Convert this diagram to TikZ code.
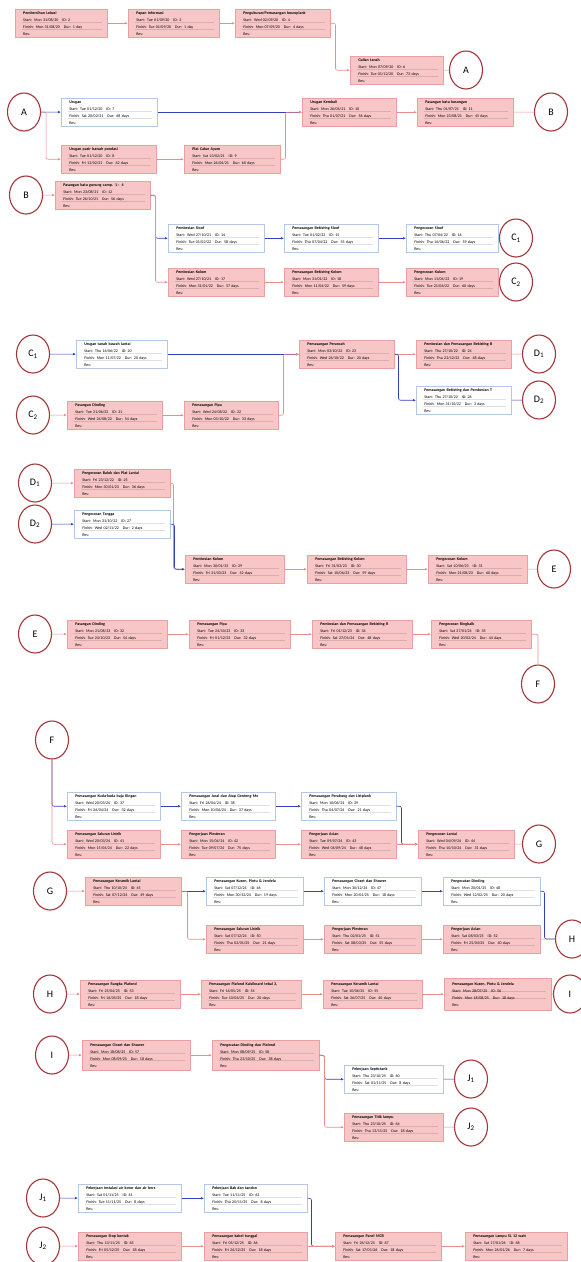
\documentclass[tikz,border=0pt]{standalone}
\usepackage{fontspec}
\setmainfont{Carlito}
\usetikzlibrary{positioning,shapes.geometric,arrows.meta}

\definecolor{critfill}{HTML}{F8C6C6}
\definecolor{critdraw}{HTML}{EBA0A0}
\definecolor{critclr}{HTML}{E88E8E}
\definecolor{nondraw}{HTML}{B4C8E4}
\definecolor{nonclr}{HTML}{3340B8}
\definecolor{ringclr}{HTML}{A4363A}

\tikzset{
  taskbox/.style={draw, line width=0.5pt, anchor=north west, minimum height=28pt,
    inner xsep=8pt, inner ysep=1.5pt, align=left, font=\fontsize{4}{7}\selectfont},
  crit/.style={taskbox, fill=critfill, draw=critdraw},
  noncrit/.style={taskbox, fill=white, draw=nondraw},
  link/.style={shape=ellipse, draw=ringclr, line width=1.1pt, fill=white,
    minimum width=33pt, minimum height=38pt, inner sep=0pt, font=\fontsize{10}{12}\selectfont},
  critarrow/.style={draw=critclr, line width=0.6pt, rounded corners=2pt, -{Latex[length=3pt,width=2.6pt]}},
  nonarrow/.style={draw=nonclr, line width=0.6pt, rounded corners=2pt, -{Latex[length=3pt,width=2.6pt]}},
  critjoin/.style={draw=critclr, line width=0.6pt, rounded corners=2pt},
  nonjoin/.style={draw=nonclr, line width=0.6pt, rounded corners=2pt},
  sepline/.style={draw=black, opacity=0.12, line width=0.3pt}
}

% style, name, x, y, width, title, start, finish
\newcommand{\pdmtask}[8]{%
  \pgfmathsetmacro{\tw}{#5-16}%
  \node[#1, text width=\tw pt] (#2) at (#3,#4) {\textbf{#6}\\Start: #7\\Finish: #8\\Res:};
  \draw[sepline] ([xshift=7,yshift=-13.5]#2.north west) -- ([xshift=-6,yshift=-13.5]#2.north east);
  \draw[sepline] ([xshift=7,yshift=-20.5]#2.north west) -- ([xshift=-6,yshift=-20.5]#2.north east);
}

\begin{document}
\begin{tikzpicture}[x=1pt,y=-1pt]
\useasboundingbox (0,0) rectangle (581,1262);
% Row 1
\pdmtask{crit}{t2}{15}{9}{92}{Pembersihan Lokasi}{Mon 31/08/20\quad ID: 2}{Mon 31/08/20\quad Dur: 1 day}
\pdmtask{crit}{t3}{128}{9}{91}{Papan Informasi}{Tue 01/09/20\quad ID: 3}{Tue 01/09/20\quad Dur: 1 day}
\pdmtask{crit}{t4}{235}{9}{95}{Pengukuran/Pemasangan bouwplank}{Wed 02/09/20\quad ID: 4}{Mon 07/09/20\quad Dur: 4 days}
\pdmtask{crit}{t6}{350}{56}{93}{Galian tanah}{Mon 07/09/20\quad ID: 6}{Tue 01/12/20\quad Dur: 73 days}
\node[link] (A1) at (466,70) {A};
\draw[critarrow] (t2) -- (t3);
\draw[critarrow] (t3) -- (t4);
\draw[critarrow] (t4.east) -- ++(5,0) |- (t6.west);
\draw[critjoin] (t6) -- (A1);
% Row 2
\node[link] (A2) at (24,112) {A};
\pdmtask{noncrit}{t7}{61}{98}{96}{Urugan}{Tue 01/12/20\quad ID: 7}{Sat 20/02/21\quad Dur: 68 days}
\pdmtask{crit}{t8}{61}{145}{95}{Urugan pasir bawah pondasi}{Tue 01/12/20\quad ID: 8}{Fri 12/02/21\quad Dur: 62 days}
\pdmtask{crit}{t9}{184}{145}{96}{Plat Cakar Ayam}{Sat 13/02/21\quad ID: 9}{Mon 26/04/21\quad Dur: 60 days}
\pdmtask{crit}{t10}{302}{98}{94}{Urugan Kembali}{Mon 26/04/21\quad ID: 10}{Thu 01/07/21\quad Dur: 56 days}
\pdmtask{crit}{t11}{417}{98}{96}{Pasangan batu kosongan}{Thu 01/07/21\quad ID: 11}{Mon 23/08/21\quad Dur: 45 days}
\node[link] (B1) at (551,112) {B};
\draw[nonarrow] (A2) -- (t7);
\draw[critarrow] (A2.east) -- ++(5,0) |- (t8.west);
\draw[critarrow] (t8) -- (t9);
\draw[nonarrow] (t7) -- (t10);
\draw[critarrow] (t9.east) -- ++(5,0) |- (t10.west);
\draw[critarrow] (t10) -- (t11);
\draw[critjoin] (t11) -- (B1);
% Row 3
\node[link] (B2) at (26,195) {B};
\pdmtask{crit}{t12}{55}{181}{95}{Pasangan batu gunung camp. 1 : 4}{Mon 23/08/21\quad ID: 12}{Tue 26/10/21\quad Dur: 56 days}
\pdmtask{noncrit}{t14}{168}{224}{96}{Pembesian Sloof}{Wed 27/10/21\quad ID: 14}{Tue 01/02/22\quad Dur: 58 days}
\pdmtask{noncrit}{t15}{284}{224}{94}{Pemasangan Bekisting Sloof}{Tue 01/02/22\quad ID: 15}{Thu 07/04/22\quad Dur: 55 days}
\pdmtask{noncrit}{t16}{406}{224}{92}{Pengecoran Sloof}{Thu 07/04/22\quad ID: 16}{Thu 16/06/22\quad Dur: 59 days}
\node[link] (C1a) at (516,238) {C\textsubscript{1}};
\pdmtask{crit}{t17}{168}{268}{96}{Pembesian Kolom}{Wed 27/10/21\quad ID: 17}{Mon 31/01/22\quad Dur: 57 days}
\pdmtask{crit}{t18}{284}{268}{94}{Pemasangan Bekisting Kolom}{Mon 31/01/22\quad ID: 18}{Mon 11/04/22\quad Dur: 59 days}
\pdmtask{crit}{t19}{406}{268}{92}{Pengecoran Kolom}{Mon 11/04/22\quad ID: 19}{Tue 21/06/22\quad Dur: 60 days}
\node[link] (C2a) at (516,282) {C\textsubscript{2}};
\draw[critarrow] (B2) -- (t12);
\draw[nonarrow] (t12.east) -- ++(5,0) |- (t14.west);
\draw[critarrow] (t12.east) -- ++(5,0) |- (t17.west);
\draw[nonarrow] (t14) -- (t15);
\draw[nonarrow] (t15) -- (t16);
\draw[nonjoin] (t16) -- (C1a);
\draw[critarrow] (t17) -- (t18);
\draw[critarrow] (t18) -- (t19);
\draw[critjoin] (t19) -- (C2a);
% Row 4
\node[link] (C1b) at (33,354) {C\textsubscript{1}};
\pdmtask{noncrit}{t20}{76}{340}{91}{Urugan tanah bawah lantai}{Thu 16/06/22\quad ID: 20}{Mon 11/07/22\quad Dur: 20 days}
\pdmtask{crit}{t23}{299}{340}{95}{Pemasangan Perancah}{Mon 03/10/22\quad ID: 23}{Wed 26/10/22\quad Dur: 20 days}
\pdmtask{crit}{t24}{416}{340}{95}{Pembesian dan Pemasangan Bekisting B}{Thu 27/10/22\quad ID: 24}{Thu 22/12/22\quad Dur: 48 days}
\node[link] (D1a) at (539,354) {D\textsubscript{1}};
\pdmtask{noncrit}{t26}{416}{386}{95}{Pemasangan Bekisting dan Pembesian T}{Thu 27/10/22\quad ID: 26}{Mon 31/10/22\quad Dur: 3 days}
\node[link] (D2a) at (539,400) {D\textsubscript{2}};
\node[link] (C2b) at (33,415) {C\textsubscript{2}};
\pdmtask{crit}{t21}{67}{401}{95}{Pasangan Dinding}{Tue 21/06/22\quad ID: 21}{Wed 24/08/22\quad Dur: 54 days}
\pdmtask{crit}{t22}{184}{401}{94}{Pemasangan Pipa}{Wed 24/08/22\quad ID: 22}{Mon 03/10/22\quad Dur: 33 days}
\draw[nonarrow] (C1b) -- (t20);
\draw[critarrow] (C2b) -- (t21);
\draw[critarrow] (t21) -- (t22);
\draw[nonarrow] (t20) -- (t23);
\draw[critarrow] (t22.east) -- ++(5,0) |- (t23.west);
\draw[critarrow] (t23) -- (t24);
\draw[nonarrow] (t23.east) -- ++(4,0) |- (t26.west);
\draw[critjoin] (t24) -- (D1a);
\draw[nonjoin] (t26) -- (D2a);
% Row 5
\node[link] (D1b) at (35,483) {D\textsubscript{1}};
\pdmtask{crit}{t25}{74}{469}{96}{Pengecoran Balok dan Plat Lantai}{Fri 23/12/22\quad ID: 25}{Mon 30/01/23\quad Dur: 36 days}
\node[link] (D2b) at (35,524) {D\textsubscript{2}};
\pdmtask{noncrit}{t27}{74}{510}{96}{Pengecoran Tangga}{Mon 31/10/22\quad ID: 27}{Wed 02/11/22\quad Dur: 2 days}
\pdmtask{crit}{t29}{185}{555}{99}{Pembesian Kolom}{Mon 30/01/23\quad ID: 29}{Fri 31/03/23\quad Dur: 52 days}
\pdmtask{crit}{t30}{307}{555}{99}{Pemasangan Bekisting Kolom}{Fri 31/03/23\quad ID: 30}{Sat 10/06/23\quad Dur: 59 days}
\pdmtask{crit}{t31}{428}{555}{99}{Pengecoran Kolom}{Sat 10/06/23\quad ID: 31}{Mon 21/08/23\quad Dur: 60 days}
\node[link] (E1) at (554,569) {E};
\draw[critarrow] (D1b) -- (t25);
\draw[nonarrow] (D2b) -- (t27);
\draw[critarrow] (t25.east) -- ++(3,0) |- (t29.west);
\draw[nonarrow] (t27.east) -- ++(4,0) |- (t29.west);
\draw[critarrow] (t29) -- (t30);
\draw[critarrow] (t30) -- (t31);
\draw[critjoin] (t31) -- (E1);
% Row 6
\node[link] (E2) at (35,634) {E};
\pdmtask{crit}{t32}{67}{620}{100}{Pasangan Dinding}{Mon 21/08/23\quad ID: 32}{Tue 24/10/23\quad Dur: 54 days}
\pdmtask{crit}{t33}{189}{620}{101}{Pemasangan Pipa}{Tue 24/10/23\quad ID: 33}{Fri 01/12/23\quad Dur: 32 days}
\pdmtask{crit}{t34}{312}{620}{100}{Pembesian dan Pemasangan Bekisting R}{Fri 01/12/23\quad ID: 34}{Sat 27/01/24\quad Dur: 48 days}
\pdmtask{crit}{t35}{431}{620}{100}{Pengecoran Ringbalk}{Sat 27/01/24\quad ID: 35}{Wed 20/03/24\quad Dur: 44 days}
\node[link] (F1) at (538,684) {F};
\draw[critarrow] (E2) -- (t32);
\draw[critarrow] (t32) -- (t33);
\draw[critarrow] (t33) -- (t34);
\draw[critarrow] (t34) -- (t35);
\draw[critjoin] (t35.east) -| (F1.north);
% Row 7
\node[link] (F2) at (52,740) {F};
\pdmtask{noncrit}{t37}{67}{792}{93}{Pemasangan Kuda-kuda baja Ringan}{Wed 20/03/24\quad ID: 37}{Fri 26/04/24\quad Dur: 32 days}
\pdmtask{noncrit}{t38}{181}{792}{94}{Pemasangan Jurai dan Atap Genteng Me}{Fri 26/04/24\quad ID: 38}{Mon 10/06/24\quad Dur: 37 days}
\pdmtask{noncrit}{t39}{301}{792}{95}{Pemasangan Perabung dan Listplank}{Mon 10/06/24\quad ID: 39}{Thu 04/07/24\quad Dur: 21 days}
\pdmtask{crit}{t41}{67}{830}{93}{Pemasangan Saluran Listrik}{Wed 20/03/24\quad ID: 41}{Mon 15/04/24\quad Dur: 22 days}
\pdmtask{crit}{t42}{181}{830}{94}{Pengerjaan Plesteran}{Mon 15/04/24\quad ID: 42}{Tue 09/07/24\quad Dur: 75 days}
\pdmtask{crit}{t43}{301}{830}{95}{Pengerjaan Acian}{Tue 09/07/24\quad ID: 43}{Wed 04/09/24\quad Dur: 48 days}
\pdmtask{crit}{t44}{418}{830}{96}{Pengecoran Lantai}{Wed 04/09/24\quad ID: 44}{Thu 10/10/24\quad Dur: 31 days}
\node[link] (G1) at (539,844) {G};
\draw[nonarrow] (F2.south) |- (t37.west);
\draw[critarrow] (F2.south) |- (t41.west);
\draw[nonarrow] (t37) -- (t38);
\draw[nonarrow] (t38) -- (t39);
\draw[critarrow] (t41) -- (t42);
\draw[critarrow] (t42) -- (t43);
\draw[nonarrow] (t39.east) -- ++(5,0) |- (t44.west);
\draw[critarrow] (t43) -- (t44);
\draw[critjoin] (t44) -- (G1);
% Row 8
\node[link] (G2) at (50,891) {G};
\pdmtask{crit}{t45}{85}{877}{96}{Pemasangan Keramik Lantai}{Thu 10/10/24\quad ID: 45}{Sat 07/12/24\quad Dur: 49 days}
\pdmtask{noncrit}{t46}{206}{877}{97}{Pemasangan Kusen, Pintu \& Jendela}{Sat 07/12/24\quad ID: 46}{Mon 30/12/24\quad Dur: 19 days}
\pdmtask{noncrit}{t47}{324}{877}{97}{Pemasangan Closet dan Shower}{Mon 30/12/24\quad ID: 47}{Mon 20/01/25\quad Dur: 18 days}
\pdmtask{noncrit}{t48}{443}{877}{97}{Pengecatan Dinding}{Mon 20/01/25\quad ID: 48}{Wed 12/02/25\quad Dur: 20 days}
\pdmtask{crit}{t50}{206}{925}{97}{Pemasangan Saluran Listrik}{Sat 07/12/24\quad ID: 50}{Thu 02/01/25\quad Dur: 21 days}
\pdmtask{crit}{t51}{324}{925}{97}{Pengerjaan Plesteran}{Thu 02/01/25\quad ID: 51}{Sat 08/03/25\quad Dur: 55 days}
\pdmtask{crit}{t52}{443}{925}{97}{Pengerjaan Acian}{Sat 08/03/25\quad ID: 52}{Fri 25/04/25\quad Dur: 40 days}
\node[link] (H1) at (572,939) {H};
\draw[critarrow] (G2) -- (t45);
\draw[nonarrow] (t45) -- (t46);
\draw[critarrow] (t45.east) -- ++(6,0) |- (t50.west);
\draw[nonarrow] (t46) -- (t47);
\draw[nonarrow] (t47) -- (t48);
\draw[critarrow] (t50) -- (t51);
\draw[critarrow] (t51) -- (t52);
\draw[nonjoin] (t48.east) -- ++(4,0) |- (H1.west);
\draw[critjoin] (t52) -- (H1);
% Row 9
\node[link] (H2) at (50,994) {H};
\pdmtask{crit}{t53}{80}{980}{100}{Pemasangan Rangka Plafond}{Fri 25/04/25\quad ID: 53}{Fri 16/05/25\quad Dur: 18 days}
\pdmtask{crit}{t54}{201}{980}{100}{Pemasangan Plafond Kalsiboard tebal 3,}{Fri 16/05/25\quad ID: 54}{Tue 10/06/25\quad Dur: 20 days}
\pdmtask{crit}{t55}{323}{980}{99}{Pemasangan Keramik Lantai}{Tue 10/06/25\quad ID: 55}{Sat 26/07/25\quad Dur: 40 days}
\pdmtask{crit,minimum height=32pt}{t56}{444}{978}{107}{Pemasangan Kusen, Pintu \& Jendela}{Mon 28/07/25\quad ID: 56}{Mon 18/08/25\quad Dur: 18 days}
\node[link] (I1) at (570,994) {I};
\draw[critarrow] (H2) -- (t53);
\draw[critarrow] (t53) -- (t54);
\draw[critarrow] (t54) -- (t55);
\draw[critarrow] (t55) -- (t56);
\draw[critjoin] (t56) -- (I1);
% Row 10
\node[link] (I2) at (52,1055) {I};
\pdmtask{crit,minimum height=30pt}{t57}{82}{1040}{108}{Pemasangan Closet dan Shower}{Mon 18/08/25\quad ID: 57}{Mon 08/09/25\quad Dur: 18 days}
\pdmtask{crit,minimum height=30pt}{t58}{212}{1040}{107}{Pengecatan Dinding dan Plafond}{Mon 08/09/25\quad ID: 58}{Thu 23/10/25\quad Dur: 38 days}
\pdmtask{noncrit}{t60}{344}{1065}{99}{Pekerjaan Septictank}{Thu 23/10/25\quad ID: 60}{Sat 01/11/25\quad Dur: 8 days}
\node[link] (J1a) at (471,1079) {J\textsubscript{1}};
\pdmtask{crit}{t64}{344}{1113}{99}{Pemasangan Titik lampu}{Thu 23/10/25\quad ID: 64}{Thu 13/11/25\quad Dur: 18 days}
\node[link] (J2a) at (471,1127) {J\textsubscript{2}};
\draw[critarrow] (I2) -- (t57);
\draw[critarrow] (t57) -- (t58);
\draw[nonarrow] (t58.east) -- ++(5,0) |- (t60.west);
\draw[critarrow] (t58.east) -- ++(5,0) |- (t64.west);
\draw[nonjoin] (t60) -- (J1a);
\draw[critjoin] (t64) -- (J2a);
% Row 11
\node[link] (J1b) at (43,1198) {J\textsubscript{1}};
\pdmtask{noncrit}{t61}{78}{1184}{103}{Pekerjaan Instalasi air kotor dan air bers}{Sat 01/11/25\quad ID: 61}{Tue 11/11/25\quad Dur: 8 days}
\pdmtask{noncrit}{t62}{204}{1184}{103}{Pekerjaan Bak dan tandon}{Tue 11/11/25\quad ID: 62}{Thu 20/11/25\quad Dur: 8 days}
\node[link] (J2b) at (43,1246) {J\textsubscript{2}};
\pdmtask{crit}{t65}{78}{1232}{103}{Pemasangan Stop kontak}{Thu 13/11/25\quad ID: 65}{Fri 05/12/25\quad Dur: 18 days}
\pdmtask{crit}{t66}{204}{1232}{103}{Pemasangan kabel tunggal}{Fri 05/12/25\quad ID: 66}{Fri 26/12/25\quad Dur: 18 days}
\pdmtask{crit}{t67}{335}{1232}{106}{Pemasangan Panel MCB}{Fri 26/12/25\quad ID: 67}{Sat 17/01/26\quad Dur: 18 days}
\pdmtask{crit}{t68}{465}{1232}{102}{Pemasangan Lampu SL 12 watt}{Sat 17/01/26\quad ID: 68}{Mon 26/01/26\quad Dur: 7 days}
\draw[nonarrow] (J1b) -- (t61);
\draw[nonarrow] (t61) -- (t62);
\draw[critarrow] (J2b) -- (t65);
\draw[critarrow] (t65) -- (t66);
\draw[nonarrow] (t62.east) -- ++(4,0) |- (t67.west);
\draw[critarrow] (t66) -- (t67);
\draw[critarrow] (t67) -- (t68);
\end{tikzpicture}
\end{document}
